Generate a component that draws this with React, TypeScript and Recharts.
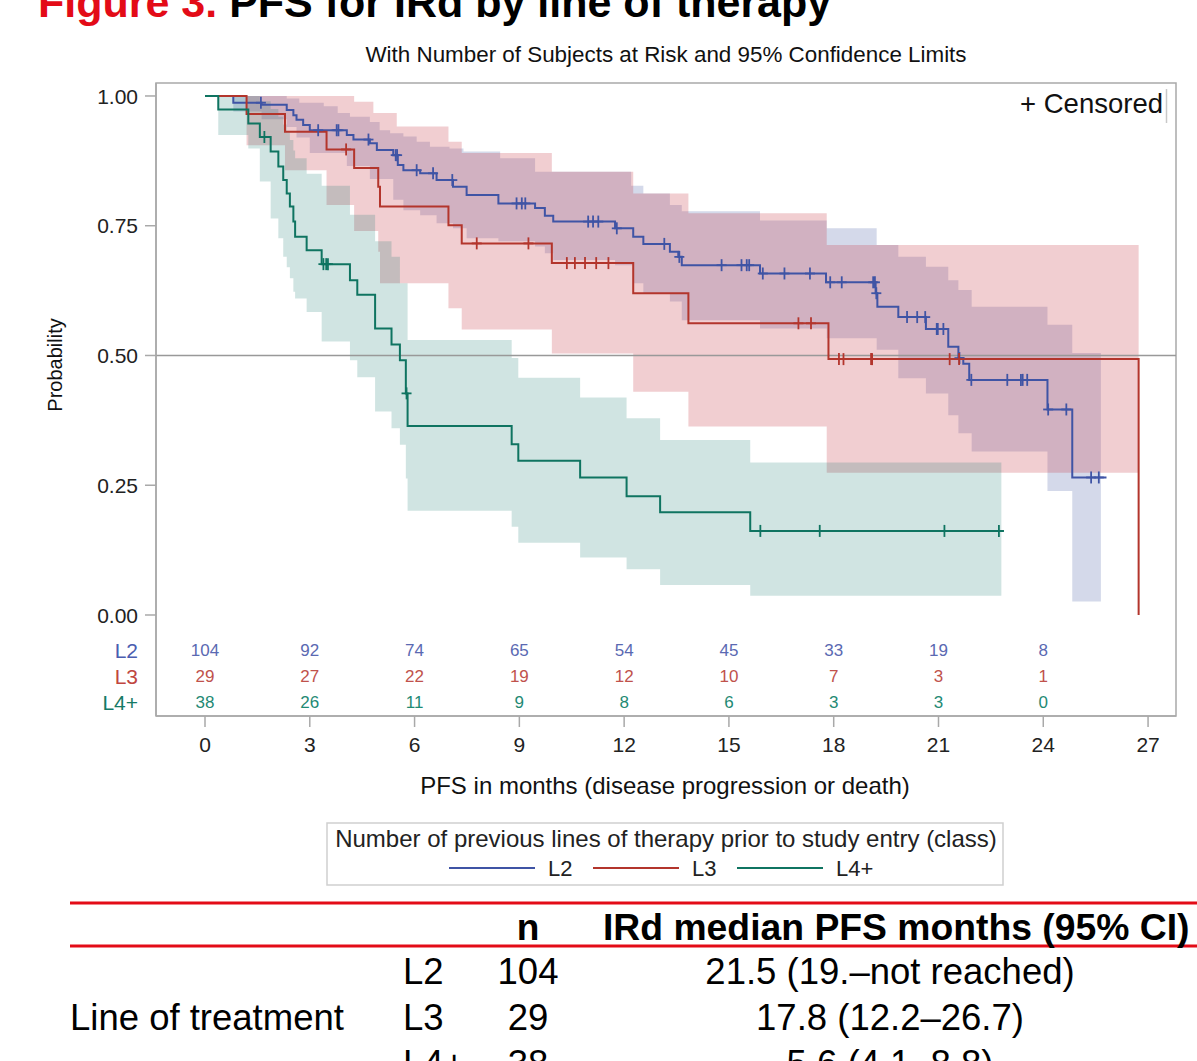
import React from 'react';
import { ComposedChart, Line, Area, Scatter, XAxis, YAxis, ReferenceLine, ReferenceArea } from 'recharts';

// ---------- data ----------
const monthTicks = [0, 3, 6, 9, 12, 15, 18, 21, 24, 27];
const probTicks = [0, 0.25, 0.5, 0.75, 1];
const groups = ['L2', 'L3', 'L4+'];
const atRiskTimes = [0, 3, 6, 9, 12, 15, 18, 21, 24];
const atRiskL2 = [104, 92, 74, 65, 54, 45, 33, 19, 8];
const atRiskL3 = [29, 27, 22, 19, 12, 10, 7, 3, 1];
const atRiskL4 = [38, 26, 11, 9, 8, 6, 3, 3, 0];

// Kaplan-Meier step curves: [month, probability]
const l2Curve: [number, number][] = [[0, 1], [0.81, 0.987], [1.62, 0.983], [2.34, 0.973], [2.53, 0.963], [2.62, 0.954], [2.81, 0.944], [3.0, 0.934], [4.06, 0.925], [4.25, 0.916], [4.72, 0.909], [4.92, 0.896], [5.39, 0.886], [5.52, 0.867], [5.68, 0.857], [6.16, 0.851], [6.63, 0.838], [7.1, 0.825], [7.49, 0.809], [8.4, 0.793], [9.45, 0.784], [9.73, 0.769], [9.97, 0.758], [11.74, 0.745], [12.26, 0.729], [12.55, 0.715], [13.31, 0.7], [13.55, 0.69], [13.65, 0.674], [15.89, 0.658], [17.78, 0.641], [19.2, 0.62], [19.25, 0.594], [19.85, 0.574], [20.64, 0.551], [21.28, 0.517], [21.57, 0.495], [21.71, 0.484], [21.88, 0.453], [24.12, 0.396], [24.83, 0.265], [25.81, 0.265]];
const l3Curve: [number, number][] = [[0, 1], [1.19, 0.9655], [2.29, 0.931], [3.48, 0.897], [4.27, 0.861], [4.96, 0.825], [5.01, 0.787], [6.97, 0.751], [7.35, 0.716], [9.93, 0.678], [12.26, 0.62], [13.84, 0.562], [17.85, 0.493], [26.73, 0]];
const l4Curve: [number, number][] = [[0, 1], [0.38, 0.974], [1.24, 0.947], [1.57, 0.921], [1.88, 0.893], [2.1, 0.864], [2.24, 0.838], [2.34, 0.812], [2.43, 0.787], [2.53, 0.758], [2.58, 0.729], [2.91, 0.703], [3.34, 0.676], [4.15, 0.645], [4.36, 0.617], [4.87, 0.552], [5.34, 0.521], [5.58, 0.491], [5.75, 0.427], [5.8, 0.364], [8.78, 0.329], [8.97, 0.297], [10.74, 0.265], [12.07, 0.229], [13.03, 0.198], [15.61, 0.162], [22.87, 0.162]];

// censored observations: [month, probability]
const l2Censored: [number, number][] = [[1.6, 0.987], [3.24, 0.934], [3.77, 0.934], [3.82, 0.934], [4.68, 0.916], [5.46, 0.886], [5.5, 0.886], [6.06, 0.857], [6.53, 0.851], [7.08, 0.838], [8.92, 0.793], [9.07, 0.793], [9.17, 0.793], [10.97, 0.758], [11.11, 0.758], [11.26, 0.758], [11.79, 0.745], [13.15, 0.715], [13.58, 0.69], [14.79, 0.674], [15.36, 0.674], [15.51, 0.674], [15.58, 0.674], [15.97, 0.658], [16.59, 0.658], [17.32, 0.658], [17.9, 0.641], [18.23, 0.641], [19.13, 0.641], [19.18, 0.641], [19.22, 0.62], [20.1, 0.574], [20.39, 0.574], [20.62, 0.574], [20.95, 0.551], [20.98, 0.551], [21.14, 0.551], [21.6, 0.495], [21.94, 0.453], [22.97, 0.453], [23.36, 0.453], [23.41, 0.453], [23.54, 0.453], [24.14, 0.396], [24.66, 0.396], [25.37, 0.265], [25.59, 0.265]];
const l3Censored: [number, number][] = [[4.04, 0.897], [7.78, 0.716], [9.26, 0.716], [10.36, 0.678], [10.59, 0.678], [10.88, 0.678], [11.2, 0.678], [11.55, 0.678], [16.99, 0.562], [17.35, 0.562], [18.15, 0.493], [18.28, 0.493], [19.07, 0.493], [19.1, 0.493], [21.32, 0.493], [21.59, 0.493]];
const l4Censored: [number, number][] = [[1.7, 0.921], [3.39, 0.676], [3.47, 0.676], [3.52, 0.676], [5.77, 0.427], [15.9, 0.162], [17.6, 0.162], [21.17, 0.162], [22.73, 0.162]];

// 95% confidence bands: [month, lower, upper]
const l2Band: [number, number, number][] = [[0, 1, 1], [0.81, 0.97, 1], [1.62, 0.955, 1], [2.34, 0.94, 0.995], [2.62, 0.92, 0.995], [2.7, 0.92, 0.987], [3.0, 0.89, 0.987], [3.4, 0.89, 0.98], [3.8, 0.89, 0.967], [4.06, 0.865, 0.967], [4.15, 0.865, 0.96], [4.72, 0.84, 0.95], [5.0, 0.84, 0.934], [5.3, 0.84, 0.928], [5.39, 0.8, 0.928], [5.68, 0.78, 0.922], [6.06, 0.78, 0.912], [6.16, 0.77, 0.912], [6.44, 0.77, 0.902], [6.63, 0.755, 0.902], [7.0, 0.755, 0.899], [7.1, 0.745, 0.899], [7.4, 0.745, 0.893], [7.49, 0.726, 0.893], [8.4, 0.72, 0.893], [8.45, 0.72, 0.88], [9.45, 0.71, 0.854], [9.73, 0.697, 0.854], [9.97, 0.684, 0.854], [11.74, 0.674, 0.854], [12.2, 0.674, 0.827], [12.26, 0.639, 0.827], [12.55, 0.62, 0.812], [13.31, 0.604, 0.79], [13.65, 0.568, 0.778], [15.89, 0.552, 0.76], [17.8, 0.533, 0.745], [19.23, 0.511, 0.713], [19.85, 0.456, 0.69], [20.64, 0.427, 0.671], [21.28, 0.385, 0.645], [21.57, 0.35, 0.626], [21.95, 0.315, 0.594], [24.12, 0.239, 0.559], [24.83, 0.026, 0.505], [25.65, 0.026, 0.505]];
const l3Band: [number, number, number][] = [[0, 1, 1], [1.19, 0.905, 1], [2.29, 0.857, 1], [3.48, 0.79, 1], [4.27, 0.74, 0.989], [4.82, 0.74, 0.967], [4.96, 0.7, 0.967], [5.01, 0.639, 0.967], [5.49, 0.639, 0.941], [6.97, 0.591, 0.912], [7.35, 0.55, 0.89], [9.93, 0.504, 0.854], [12.26, 0.43, 0.812], [13.84, 0.363, 0.774], [17.8, 0.274, 0.713], [26.73, 0.274, 0.713]];
const l4Band: [number, number, number][] = [[0, 1, 1], [0.38, 0.925, 1], [1.24, 0.899, 1], [1.57, 0.835, 0.99], [1.88, 0.764, 0.975], [2.1, 0.726, 0.96], [2.24, 0.69, 0.945], [2.34, 0.67, 0.93], [2.43, 0.649, 0.915], [2.53, 0.623, 0.895], [2.58, 0.61, 0.88], [2.91, 0.584, 0.85], [3.34, 0.527, 0.827], [4.15, 0.491, 0.771], [4.36, 0.458, 0.771], [4.87, 0.392, 0.72], [5.34, 0.36, 0.69], [5.58, 0.328, 0.639], [5.75, 0.263, 0.639], [5.8, 0.201, 0.53], [8.78, 0.17, 0.495], [8.97, 0.139, 0.457], [10.74, 0.111, 0.419], [12.07, 0.088, 0.379], [13.03, 0.058, 0.337], [15.61, 0.037, 0.294], [22.8, 0.037, 0.294]];

// ---------- layout / style ----------
const FONT = "'Liberation Sans', Arial, Helvetica, sans-serif";
const W = 1197;
const H = 1061;
const CH = 800;
const PLOT_LEFT = 156;
const XMIN = -1.403;
const XMAX = 27.8;
const YMIN = -0.1946;
const YMAX = 1.025;
const ROW_POS = [-0.0674, -0.1175, -0.1676];
const LINE_COLORS = ['#3f54a5', '#b3352c', '#0f7461'];
const BAND_COLORS = ['#3c50a0', '#c83c46', '#147a6e'];
const BAND_OPACITY = [0.22, 0.25, 0.2];
const RISK_COLORS = ['#5a69b2', '#c0524c', '#1f8a74'];
const ROW_LABEL_COLORS = ['#4a5db0', '#c0463f', '#157a66'];
const FRAME = '#a9a9a9';

const toCurve = (a: [number, number][]) => a.map(([t, p]) => ({ t, p }));
const toBand = (a: [number, number, number][]) => a.map(([t, lo, hi]) => ({ t, r: [lo, hi] }));

const curves = [toCurve(l2Curve), toCurve(l3Curve), toCurve(l4Curve)];
const censored = [toCurve(l2Censored), toCurve(l3Censored), toCurve(l4Censored)];
const bands = [toBand(l2Band), toBand(l3Band), toBand(l4Band)];
const atRiskRows = [atRiskL2, atRiskL3, atRiskL4];
const atRiskData = atRiskRows.map((row, gi) => row.map((n, i) => ({ t: atRiskTimes[i], p: ROW_POS[gi], n, g: gi })));

const YTick = (props: any) => {
  const { y, payload } = props;
  const v = payload.value;
  const ri = ROW_POS.indexOf(v);
  if (ri >= 0) {
    return (
      <text x={PLOT_LEFT - 18} y={y} dy="0.36em" textAnchor="end" fontSize={21} fontFamily={FONT} fill={ROW_LABEL_COLORS[ri]}>
        {groups[ri]}
      </text>
    );
  }
  return (
    <g>
      <line x1={PLOT_LEFT - 11} x2={PLOT_LEFT} y1={y} y2={y} stroke={FRAME} strokeWidth={1.5} />
      <text x={PLOT_LEFT - 18} y={y} dy="0.36em" textAnchor="end" fontSize={21} fontFamily={FONT} fill="#222">
        {v.toFixed(2)}
      </text>
    </g>
  );
};

const makeCensorShape = (color: string) => (props: any) => {
  const { cx, cy } = props;
  return (
    <g>
      <line x1={cx} x2={cx} y1={cy - 6} y2={cy + 6} stroke={color} strokeWidth={1.8} />
      <line x1={cx - 5} x2={cx + 5} y1={cy} y2={cy} stroke={color} strokeWidth={1.8} />
    </g>
  );
};

const makeRiskShape = (gi: number) => (props: any) => {
  const { cx, cy, payload } = props;
  return (
    <text x={cx} y={cy} dy="0.36em" textAnchor="middle" fontSize={17} fontFamily={FONT} fill={RISK_COLORS[gi]}>
      {payload.n}
    </text>
  );
};

export default function App() {
  return (
    <div style={{ position: 'absolute', left: 0, top: 0, width: W, height: H, background: '#fff', overflow: 'hidden' }}>
      <div style={{ position: 'absolute', left: 0, top: 0 }}>
        <ComposedChart width={W} height={CH} margin={{ top: 83, right: 21, bottom: 44, left: 96 }}>
          <XAxis
            type="number"
            dataKey="t"
            domain={[XMIN, XMAX]}
            allowDataOverflow
            ticks={monthTicks}
            interval={0}
            height={40}
            tickSize={11}
            tickMargin={10}
            axisLine={{ stroke: FRAME, strokeWidth: 1.5 }}
            tickLine={{ stroke: FRAME, strokeWidth: 1.5 }}
            tick={{ fontSize: 21, fill: '#222', fontFamily: FONT }}
          />
          <YAxis
            type="number"
            domain={[YMIN, YMAX]}
            allowDataOverflow
            ticks={[...ROW_POS, ...probTicks]}
            interval={0}
            width={60}
            tickLine={false}
            axisLine={{ stroke: FRAME, strokeWidth: 1.5 }}
            tick={<YTick />}
          />
          {bands.map((b, i) => (
            <Area
              key={'band' + i}
              data={b}
              dataKey="r"
              type="stepAfter"
              stroke="none"
              fill={BAND_COLORS[i]}
              fillOpacity={BAND_OPACITY[i]}
              dot={false}
              activeDot={false}
              isAnimationActive={false}
            />
          ))}
          <ReferenceLine y={0.5} stroke="#999" strokeWidth={1.5} />
          <ReferenceArea x1={XMIN} x2={XMAX} y1={YMIN} y2={YMAX} fill="none" stroke={FRAME} strokeWidth={1.5} />
          {curves.map((c, i) => (
            <Line
              key={'curve' + i}
              data={c}
              dataKey="p"
              type="stepAfter"
              stroke={LINE_COLORS[i]}
              strokeWidth={2}
              dot={false}
              activeDot={false}
              isAnimationActive={false}
            />
          ))}
          {censored.map((c, i) => (
            <Scatter key={'cens' + i} data={c} dataKey="p" shape={makeCensorShape(LINE_COLORS[i])} isAnimationActive={false} />
          ))}
          {atRiskData.map((d, i) => (
            <Scatter key={'risk' + i} data={d} dataKey="p" shape={makeRiskShape(i)} isAnimationActive={false} />
          ))}
        </ComposedChart>
      </div>
      <svg width={W} height={H} style={{ position: 'absolute', left: 0, top: 0, pointerEvents: 'none' }} fontFamily={FONT}>
        <text x={38} y={17} fontSize={43} fontWeight="bold">
          <tspan fill="#e30b17">Figure 3.</tspan>
          <tspan fill="#000"> PFS for IRd by line of therapy</tspan>
        </text>
        <text x={666} y={62} fontSize={22.4} textAnchor="middle" fill="#111">With Number of Subjects at Risk and 95% Confidence Limits</text>
        <text x={1163} y={113} fontSize={27.5} textAnchor="end" fill="#111">+ Censored</text>
        <line x1={1166.5} x2={1166.5} y1={89} y2={123} stroke="#c8c8c8" strokeWidth={1.5} />
        <text transform="translate(62,365) rotate(-90)" fontSize={20} textAnchor="middle" fill="#111">Probability</text>
        <text x={665} y={794} fontSize={24} textAnchor="middle" fill="#111">PFS in months (disease progression or death)</text>
        <rect x={327} y={823} width={676} height={62} fill="none" stroke="#cfcfcf" strokeWidth={1.5} />
        <text x={666} y={847} fontSize={24} textAnchor="middle" fill="#222">Number of previous lines of therapy prior to study entry (class)</text>
        {groups.map((g, i) => {
          const x0 = [449, 593, 737][i];
          return (
            <g key={g}>
              <line x1={x0} x2={x0 + 86} y1={868} y2={868} stroke={LINE_COLORS[i]} strokeWidth={2} />
              <text x={x0 + 99} y={876} fontSize={22} fill="#222">{g}</text>
            </g>
          );
        })}
        <line x1={70} x2={1197} y1={903} y2={903} stroke="#e30b17" strokeWidth={3} />
        <line x1={70} x2={1197} y1={946} y2={946} stroke="#e30b17" strokeWidth={3} />
        <text x={528} y={940} fontSize={37} fontWeight="bold" textAnchor="middle" fill="#000">n</text>
        <text x={603} y={940} fontSize={37.3} fontWeight="bold" fill="#000">IRd median PFS months (95% CI)</text>
        <text x={70} y={1030} fontSize={36.5} fill="#000">Line of treatment</text>
        {[
          ['L2', '104', '21.5 (19.–not reached)'],
          ['L3', '29', '17.8 (12.2–26.7)'],
          ['L4+', '38', '5.6 (4.1–8.8)'],
        ].map((r, i) => (
          <g key={r[0]}>
            <text x={403} y={984 + i * 46} fontSize={36.5} fill="#000">{r[0]}</text>
            <text x={528} y={984 + i * 46} fontSize={36.5} textAnchor="middle" fill="#000">{r[1]}</text>
            <text x={890} y={984 + i * 46} fontSize={36.5} textAnchor="middle" fill="#000">{r[2]}</text>
          </g>
        ))}
      </svg>
    </div>
  );
}
